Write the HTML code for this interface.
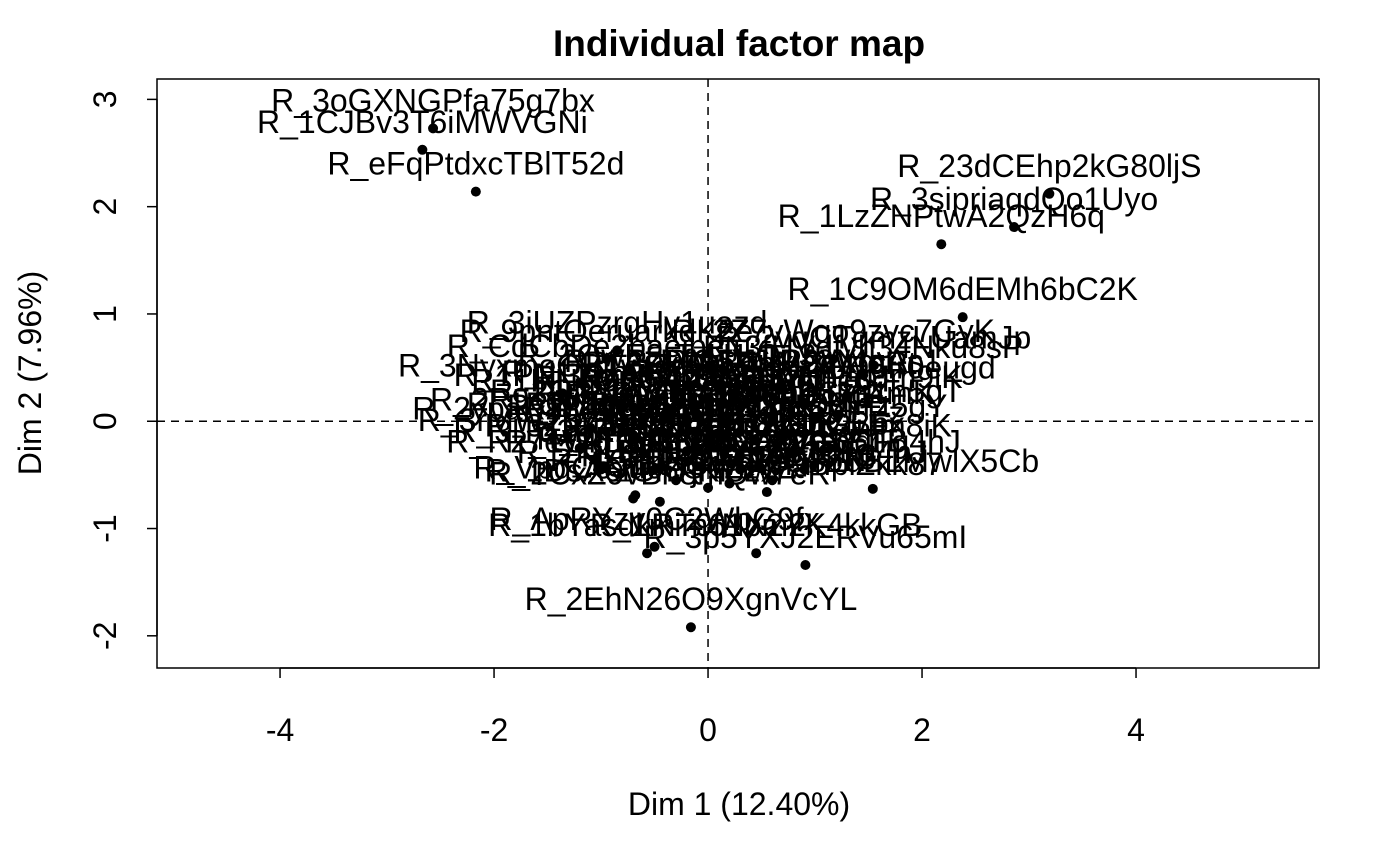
<!DOCTYPE html>
<html><head><meta charset="utf-8"><style>
html,body{margin:0;padding:0;background:#fff;}
svg{display:block;font-family:"Liberation Sans",Arial,sans-serif;}
</style></head><body>
<svg id="chart" width="1400" height="865" viewBox="0 0 1400 865" xmlns="http://www.w3.org/2000/svg"></svg>
<script>
const names = ["R_3oGXNGPfa75g7bx","R_1CJBv3T6iMWVGNi","R_eFqPtdxcTBlT52d","R_23dCEhp2kG80ljS","R_3sipriaqdQo1Uyo","R_1LzZNPtwA2QzH6q","R_1C9OM6dEMh6bC2K","R_2EhN26O9XgnVcYL","R_3p5YXJ2ERVu65mI","R_1bYasdkRim61bm2","R_ApRYzy0C2WbG9fx","R_1mT9fNX2YK4kkGB","R_2vqCTqmzLUamJp","R_3fHVdfvh34Nku8sP","R_2Z7vWqo9zvc7GyK","R_3kXuxuD6fr0eugd","R_1mQxZk8PRyEEz","R_2abcFh8k3bGBbx","R_3c9qLh2WpSFTB","R_1pQ8ZdBLMwlX5Cb","R_1kXSWkWFmpiZkk87","R_3iUZPzrgHy1uazd","R_9pntOeruarkdK2e","R_CdCbDe2baeibetu","R_3NyxmeOP1vz7dEp","R_1PNj3RxAUbn2Amz","R_1IkNqQ2vXmR8cdL","R_2ypaRz8D9gqoLHt","R_2R9cq0Yq8LkJbnW","R_3rMW2u7z6vKh0Ps","R_3lTq2bRz0Xx8pIj","R_Rz7eWq1pLr5SbO","R_VpdCoJu0eQ1ZzvE","R_2QwE8rTyU1iOp3a","R_1AsDfG5hJkL9zXc","R_3ZxCvB7nM2qWeRt","R_PoIuY6tReW4qAs1","R_1LkJhG3fDsA8pOi","R_2MnBvC9xZ1aSdFg","R_3QaZ2wSx4eDc6rF","R_1TgB5yHn7uJm9iK","R_2OlP0kMi8nJu6bH","R_3YgV4tFc2rDx1eS","R_1WaZ3qXs5eDc7rF","R_2VbG8tYh6uJn4mK","R_3PlO9iKu7jYh5gT","R_1RfV2gTb4hYn6uJ","R_2MkI8oLp0qAz1wS","R_3XeD4cRf5vTg6bY","R_1HnU7jMi8kO9lPz","R_2QaW3sEd4rFt5gY","R_3ZsX5dCf6vGb7hN","R_1JmK9lOp0iUy8tR","R_2EwQ1aZs2xDc3vF","R_3BgT6yHn7uJm8iK","R_1OkL9pIj8uHy7gT","R_2FrE4dCs3xAz2qW","R_3NhY7uJm6tGb5rF","R_1VcX2zAs3dFg4hJ","R_2KjH8gFd7sAq6wE","R_3TyU5iOp4lKj3hG","R_1DsA6fGh7jKl8zX","R_2CxZ9vBn8mQw7eR","R_3UiO2pAs3dFg4hJ","R_1GhJ5kLz6xCv7bN"];
const dim1 = [-2.57,-2.67,-2.17,3.19,2.86,2.18,2.38,-0.16,0.91,-0.57,-0.50,0.45,1.55,1.45,1.17,1.30,0.44,0.45,0.50,1.54,0.55,-0.85,-0.95,-1.02,-1.36,-0.84,-0.70,-1.31,-1.10,-1.20,-1.05,-1.00,-0.68,-0.30,0.10,0.40,0.70,-0.50,-0.10,0.30,0.90,-0.60,-0.20,0.15,0.60,1.00,-0.80,-0.40,0.00,0.30,0.75,-0.60,-0.20,0.15,0.80,-0.50,-0.10,0.30,0.90,-0.30,0.20,-0.70,-0.45,0.60,0.00];
const dim2 = [2.73,2.53,2.14,2.12,1.81,1.65,0.97,-1.92,-1.34,-1.23,-1.17,-1.23,0.52,0.43,0.58,0.24,-0.18,-0.28,-0.44,-0.63,-0.66,0.66,0.58,0.44,0.26,0.17,0.12,-0.14,-0.06,-0.25,-0.35,-0.45,-0.69,0.35,0.30,0.28,0.30,0.20,0.15,0.12,0.15,0.02,0.00,-0.02,0.00,0.02,-0.10,-0.12,-0.15,-0.10,-0.12,-0.30,-0.28,-0.30,-0.30,-0.45,-0.42,-0.45,-0.45,-0.55,-0.58,-0.72,-0.75,-0.55,-0.62];
const xTicks = [-4,-2,0,2,4];
const yTicks = [-2,-1,0,1,2,3];

const svg = document.getElementById('chart');
const NS = 'http://www.w3.org/2000/svg';
const L=157,R=1319,T=79,B=668;
const xMin=-5.15,xMax=5.71,yMin=-2.30,yMax=3.19;
const sx = v => L + (v-xMin)/(xMax-xMin)*(R-L);
const sy = v => B - (v-yMin)/(yMax-yMin)*(B-T);
function mk(tag, attrs, parent){const e=document.createElementNS(NS,tag);for(const k in attrs)e.setAttribute(k,attrs[k]);(parent||svg).appendChild(e);return e;}

let t = mk('text',{x:739,y:56,'text-anchor':'middle','font-size':37,'font-weight':'bold'});
t.textContent='Individual factor map';



let box = mk('rect',{x:L,y:T,width:R-L,height:B-T,fill:'none',stroke:'#000','stroke-width':1.5});



let vl = mk('line',{x1:sx(0),x2:sx(0),y1:T,y2:B,stroke:'#000','stroke-width':1.5,'stroke-dasharray':'8,6'});


let hl = mk('line',{x1:L,x2:R,y1:sy(0),y2:sy(0),stroke:'#000','stroke-width':1.5,'stroke-dasharray':'8,6'});



const xa = mk('g',{});


mk('line',{x1:sx(xTicks[0]),x2:sx(xTicks[xTicks.length-1]),y1:B,y2:B,stroke:'#000','stroke-width':1.5},xa);
xTicks.forEach(v=>{
  mk('line',{x1:sx(v),x2:sx(v),y1:B,y2:B+10,stroke:'#000','stroke-width':1.5},xa);
  const tx = mk('text',{x:sx(v),y:741,'text-anchor':'middle','font-size':32},xa);
  tx.textContent = String(v);
  
  
});
const ya = mk('g',{});


mk('line',{x1:L,x2:L,y1:sy(yTicks[0]),y2:sy(yTicks[yTicks.length-1]),stroke:'#000','stroke-width':1.5},ya);
yTicks.forEach(v=>{
  mk('line',{x1:L-10,x2:L,y1:sy(v),y2:sy(v),stroke:'#000','stroke-width':1.5},ya);
  const tx = mk('text',{x:0,y:0,'text-anchor':'middle','font-size':32,transform:`translate(116,${sy(v)}) rotate(-90)`},ya);
  tx.textContent = String(v);
  
  
});
let xt = mk('text',{x:739,y:815,'text-anchor':'middle','font-size':32});
xt.textContent='Dim 1 (12.40%)';


let yt = mk('text',{x:0,y:0,'text-anchor':'middle','font-size':32,transform:'translate(41,373) rotate(-90)'});
yt.textContent='Dim 2 (7.96%)';



const pts = mk('g',{});


names.forEach((n,i)=>{
  const c = mk('circle',{cx:sx(dim1[i]),cy:sy(dim2[i]),r:5,fill:'#000'},pts);
  
  
  const lb = mk('text',{x:sx(dim1[i]),y:sy(dim2[i])-17,'text-anchor':'middle','font-size':32},pts);
  lb.textContent = n;
  
  
});
</script>
</body></html>
